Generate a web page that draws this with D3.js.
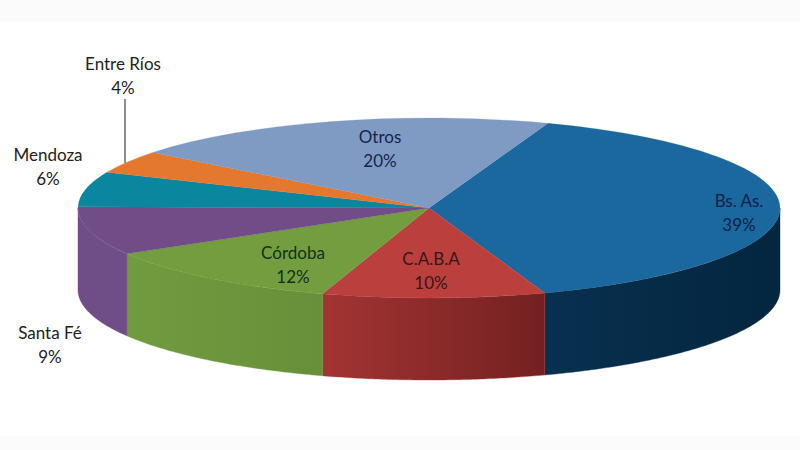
<!DOCTYPE html>
<html>
<head>
<meta charset="utf-8">
<script src="https://cdn.jsdelivr.net/npm/d3@7"></script>
<style>
  html, body { margin: 0; padding: 0; background: #fff; }
  text { font-family: Lato, "Open Sans", sans-serif; font-size: 17px; text-anchor: middle; }
</style>
</head>
<body>
<svg id="chart" width="800" height="450"></svg>
<script>
  "use strict";

  // shares, labels show them rounded
  var provinces = ["Bs. As.", "C.A.B.A", "Córdoba", "Santa Fé", "Mendoza", "Entre Ríos", "Otros"];
  var shares = [39.15, 10.25, 11.6, 8.7, 6.3, 4.1, 19.9];
  var topColors = ["#1b689e", "#bb3f3d", "#729e3f", "#714d87", "#0b869f", "#e4782e", "#7f9bc4"];
  var wallLeftColors = ["#08304f", "#a33433", "#709c3f", "#6f4d86", "#0b869f", "#e4782e", "#7f9bc4"];
  var wallRightColors = ["#04263f", "#742020", "#688f3a", "#6f4d86", "#0b869f", "#e4782e", "#7f9bc4"];
  var labelColors = ["#10224a", "#3a1518", "#12301a", "#222", "#222", "#222", "#14264a"];

  var cx = 429, cy = 208, rx = 351, ry = 90, depth = 82;
  var startAngle = 19.8 * Math.PI / 180;
  var labelCenters = [[739, 201], [431, 259], [293, 253], [50, 333], [48, 155], [123, 64], [380, 137]];

  var svg = d3.select("#chart");
  var defs = svg.append("defs");

  // the photo has faint grey strips along the top and bottom
  svg.append("rect").attr("width", 800).attr("height", 23).attr("fill", "#fbfbfb");
  svg.append("rect").attr("y", 436).attr("width", 800).attr("height", 14).attr("fill", "#fbfbfb");

  var slices = d3.pie().sort(null)
    .startAngle(startAngle)
    .endAngle(startAngle + 2 * Math.PI)(shares);

  // walls only exist on the front half of the ellipse
  function wallPath(a0, a1) {
    var from = Math.max(a0, Math.PI / 2), to = Math.min(a1, 3 * Math.PI / 2);
    if (from >= to) return null;
    var angles = d3.range(from, to, 0.01).concat([to]);
    var rim = d3.line()
      .x(function (a) { return cx + rx * Math.sin(a); })
      .y(function (a) { return cy - ry * Math.cos(a); });
    var lower = d3.line()
      .x(function (a) { return cx + rx * Math.sin(a); })
      .y(function (a) { return cy + depth - ry * Math.cos(a); });
    return rim(angles) + "L" + lower(angles.slice().reverse()).slice(1) + "Z";
  }

  slices.forEach(function (d, i) {
    var path = wallPath(d.startAngle, d.endAngle);
    if (!path) return;
    var grad = defs.append("linearGradient").attr("id", "wall" + i);
    grad.append("stop").attr("offset", "0").attr("stop-color", wallLeftColors[i]);
    grad.append("stop").attr("offset", "1").attr("stop-color", wallRightColors[i]);
    svg.append("path").attr("d", path).attr("fill", "url(#wall" + i + ")")
      .attr("stroke", wallLeftColors[i]).attr("stroke-width", 0.4);
  });

  var arc = d3.arc().innerRadius(0).outerRadius(rx);
  svg.append("g")
    .attr("transform", "translate(" + cx + "," + cy + ") scale(1," + (ry / rx) + ")")
    .selectAll("path")
    .data(slices)
    .join("path")
    .attr("d", arc)
    .attr("fill", function (d, i) { return topColors[i]; })
    .attr("stroke", function (d, i) { return topColors[i]; })
    .attr("stroke-width", 0.4);

  svg.append("line")
    .attr("x1", 125).attr("x2", 125).attr("y1", 99).attr("y2", 163)
    .attr("stroke", "#444").attr("stroke-width", 1.2);

  var pct = d3.format(".0f");
  provinces.forEach(function (name, i) {
    var p = labelCenters[i];
    var label = svg.append("text").attr("fill", labelColors[i]);
    label.append("tspan").attr("x", p[0]).attr("y", p[1] + 6).text(name);
    label.append("tspan").attr("x", p[0]).attr("y", p[1] + 30).text(pct(shares[i]) + "%");
  });
</script>
</body>
</html>
